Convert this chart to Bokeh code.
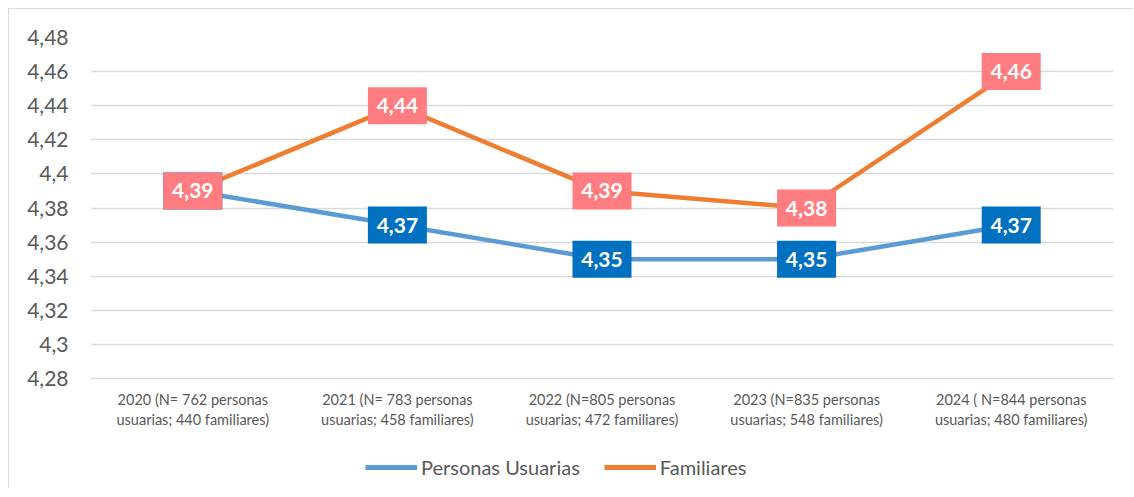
from bokeh.plotting import figure
from bokeh.layouts import column
from bokeh.models import ColumnDataSource, Legend, LegendItem, FixedTicker, CustomJSTickFormatter
from bokeh.core.properties import value
from bokeh.embed import file_html
from bokeh.resources import INLINE

categories = [
    "2020 (N= 762 personas\nusuarias; 440 familiares)",
    "2021 (N= 783 personas\nusuarias; 458 familiares)",
    "2022 (N=805 personas\nusuarias; 472 familiares)",
    "2023 (N=835 personas\nusuarias; 548 familiares)",
    "2024 ( N=844 personas\nusuarias; 480 familiares)",
]
usuarias = [4.39, 4.37, 4.35, 4.35, 4.37]
familiares = [4.39, 4.44, 4.39, 4.38, 4.46]
series_names = ["Personas Usuarias", "Familiares"]
y_ticks = [4.28, 4.30, 4.32, 4.34, 4.36, 4.38, 4.40, 4.42, 4.44, 4.46, 4.48]

FONT = "Lato"
GRID = "#D9D9D9"
TXT = "#595959"
C_U, C_F = "#5B9BD5", "#ED7D31"
B_U, B_F = "#0070C0", "#FF7C80"

xs = list(range(len(categories)))

def fmt(v):
    return ("%.2f" % v).replace(".", ",")

src_u = ColumnDataSource(dict(x=xs, y=usuarias, lab=[fmt(v) for v in usuarias]))
src_f = ColumnDataSource(dict(x=xs, y=familiares, lab=[fmt(v) for v in familiares]))

p = figure(frame_width=1023, frame_height=341, output_backend="svg", toolbar_location=None,
           x_range=(-0.5, 4.5), y_range=(y_ticks[0], y_ticks[-1]),
           min_border_left=81, min_border_right=20, min_border_top=28, min_border_bottom=60)
p.outline_line_color = None
p.background_fill_color = "white"
p.border_fill_color = "white"

p.xgrid.grid_line_color = None
p.ygrid.grid_line_color = GRID
p.ygrid.grid_line_width = 1.3
p.yaxis.ticker = FixedTicker(ticks=y_ticks)
p.yaxis.formatter = CustomJSTickFormatter(code="""
    let s = tick.toFixed(2);
    s = s.replace(/0+$/, '').replace(/\\.$/, '');
    return s.replace('.', ',');
""")
p.yaxis.axis_line_color = None
p.yaxis.major_tick_line_color = None
p.yaxis.minor_tick_line_color = None
p.yaxis.major_label_standoff = 16
p.yaxis.major_label_text_font = FONT
p.yaxis.major_label_text_font_size = "21px"
p.yaxis.major_label_text_color = TXT

p.xaxis.ticker = FixedTicker(ticks=xs)
p.xaxis.major_label_overrides = {i: c for i, c in zip(xs, categories)}
p.xaxis.axis_line_color = GRID
p.xaxis.axis_line_width = 1.3
p.xaxis.major_tick_line_color = None
p.xaxis.minor_tick_line_color = None
p.xaxis.major_label_standoff = 6
p.xaxis.major_label_text_font = FONT
p.xaxis.major_label_text_font_size = "14.5px"
p.xaxis.major_label_text_color = TXT

p.line("x", "y", source=src_u, line_color=C_U, line_width=4.5)
p.line("x", "y", source=src_f, line_color=C_F, line_width=4.5)

p.rect("x", "y", width=59, height=37, width_units="screen", height_units="screen",
       source=src_u, fill_color=B_U, line_color=None)
p.text("x", "y", text="lab", source=src_u, text_color="white", text_font=value(FONT),
       text_font_style="bold", text_font_size="21px", text_align="center", text_baseline="middle")
p.rect("x", "y", width=59, height=37, width_units="screen", height_units="screen",
       source=src_f, fill_color=B_F, line_color=None)
p.text("x", "y", text="lab", source=src_f, text_color="white", text_font=value(FONT),
       text_font_style="bold", text_font_size="21px", text_align="center", text_baseline="middle")

# legend strip below the chart (sample renderers lie outside the visible range)
lg = figure(width=1124, height=50, output_backend="svg", toolbar_location=None,
            x_range=(0, 1), y_range=(0, 1), min_border=0,
            x_axis_location=None, y_axis_location=None)
lg.outline_line_color = None
lg.grid.grid_line_color = None
du = lg.line(x=[5, 6], y=[5, 6], line_color=C_U, line_width=5)
df = lg.line(x=[5, 6], y=[5, 6], line_color=C_F, line_width=5)
legend = Legend(items=[LegendItem(label=series_names[0], renderers=[du]),
                       LegendItem(label=series_names[1], renderers=[df])],
                orientation="horizontal", location=(275, 9),
                glyph_width=52, label_standoff=4, spacing=24, padding=4, margin=0,
                label_text_font=FONT, label_text_font_size="20px", label_text_color=TXT,
                border_line_color=None, background_fill_alpha=0)
lg.add_layout(legend, "center")

layout = column(p, lg, spacing=0,
                styles={"border-top": "1px solid #D9D9D9", "border-left": "1px solid #D9D9D9",
                        "margin-left": "8px", "margin-top": "8px"})

open("out.html", "w").write(file_html(layout, INLINE))
